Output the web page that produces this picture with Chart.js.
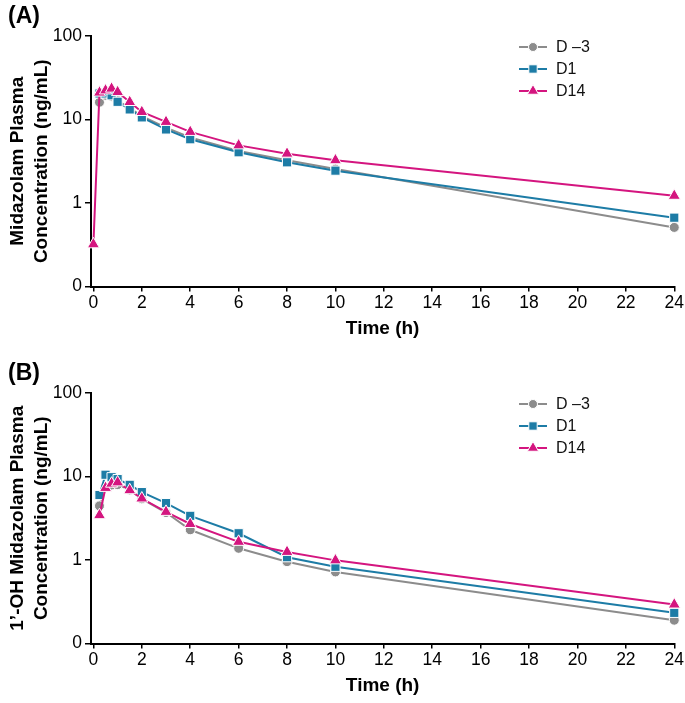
<!DOCTYPE html>
<html>
<head>
<meta charset="utf-8">
<script src="https://cdn.jsdelivr.net/npm/chart.js@4.4.0/dist/chart.umd.min.js"></script>
<style>
    html, body { margin: 0; padding: 0; background: #fff; }
    .panel { position: absolute; left: 0; width: 685px; height: 346px; }
    #panelA { top: 0; }
    #panelB { top: 357px; }
</style>
</head>
<body>
<div class="panel" id="panelA"><canvas id="chartA"></canvas></div>
<div class="panel" id="panelB"><canvas id="chartB"></canvas></div>
<script>
// sampling times (h)
const times = [0.25, 0.5, 0.75, 1, 1.5, 2, 3, 4, 6, 8, 10, 24];
const timesD14A = [0, 0.25, 0.5, 0.75, 1, 1.5, 2, 3, 4, 6, 8, 10, 24];
const xTicks = [0, 2, 4, 6, 8, 10, 12, 14, 16, 18, 20, 22, 24];
const yTicks = [0.1, 1, 10, 100];
const seriesLabels = ['D \u20133', 'D1', 'D14'];

// (A) midazolam, ng/mL
const midD3  = [16.1, 19.5, 19.0, 16.8, 13.7, 11.0, 8.0, 6.1, 4.2, 3.25, 2.55, 0.51];
const midD1  = [20.5, 20.5, 19.5, 16.3, 13.2, 10.6, 7.6, 5.8, 4.05, 3.07, 2.44, 0.667];
const midD14 = [0.32, 21.0, 22.3, 23.4, 21.3, 16.2, 12.3, 9.35, 7.1, 4.9, 3.9, 3.25, 1.22];

// (B) 1'-OH midazolam, ng/mL
const ohD3  = [4.45, 7.5, 7.9, 8.0, 6.9, 5.4, 3.7, 2.3, 1.38, 0.955, 0.72, 0.19];
const ohD1  = [6.0, 10.5, 9.8, 9.3, 7.95, 6.5, 4.8, 3.38, 2.09, 1.08, 0.83, 0.233];
const ohD14 = [3.44, 7.3, 8.2, 8.5, 6.85, 5.45, 3.77, 2.7, 1.65, 1.25, 0.99, 0.293];

const colors = ['#8c8c8c', '#1d7ca6', '#d4157f'];
const styles = ['circle', 'rect', 'triangle'];
const radii = [5, 6.5, 7];
const FONT = '"Liberation Sans", Arial, sans-serif';

function pts(xs, ys) {
    return xs.map((x, i) => ({x: x, y: ys[i]}));
}

function drawMarker(ctx, style, x, y, r, color) {
    ctx.beginPath();
    if (style === 'circle') {
        ctx.arc(x, y, r, 0, Math.PI * 2);
    } else if (style === 'rect') {
        ctx.rect(x - r, y - r, 2 * r, 2 * r);
    } else {
        ctx.moveTo(x, y - r);
        ctx.lineTo(x + r * 0.866, y + r / 2);
        ctx.lineTo(x - r * 0.866, y + r / 2);
        ctx.closePath();
    }
    ctx.fillStyle = color;
    ctx.fill();
    ctx.strokeStyle = '#fff';
    ctx.lineWidth = 1;
    ctx.stroke();
}

const overlay = {
    id: 'overlay',
    afterDraw(chart, args, opts) {
        const ctx = chart.ctx;
        ctx.save();
        ctx.fillStyle = '#000';
        ctx.textBaseline = 'middle';
        ctx.font = 'bold 23px ' + FONT;
        ctx.fillText(opts.label, 8, 17);

        // legend
        ctx.font = '16px ' + FONT;
        for (let i = 0; i < 3; i++) {
            let y = 47 + i * 22;
            ctx.strokeStyle = colors[i];
            ctx.lineWidth = 2;
            ctx.beginPath();
            ctx.moveTo(519, y);
            ctx.lineTo(547, y);
            ctx.stroke();
            let sz = [4.5, 4.2, 6.5][i];
            drawMarker(ctx, styles[i], 533, y, sz, colors[i]);
            ctx.fillStyle = '#111';
            ctx.fillText(seriesLabels[i], 556, y + 1);
        }
        ctx.restore();
    }
};

function makePanel(id, label, yTitle, sets) {
    let datasets = sets.map((s, i) => ({
        label: seriesLabels[i],
        data: s,
        order: 3 - i,
        borderColor: colors[i],
        backgroundColor: colors[i],
        borderWidth: 2,
        tension: 0,
        pointStyle: styles[i],
        pointRadius: radii[i],
        pointBackgroundColor: colors[i],
        pointBorderColor: '#fff',
        pointBorderWidth: 1,
        clip: false
    }));

    return new Chart(document.getElementById(id), {
        type: 'line',
        data: {datasets: datasets},
        plugins: [overlay],
        options: {
            responsive: true,
            maintainAspectRatio: false,
            animation: false,
            layout: {padding: {top: 36, right: 10, left: 0, bottom: 0}},
            plugins: {
                legend: {display: false},
                tooltip: {enabled: false},
                overlay: {label: label}
            },
            scales: {
                x: {
                    type: 'linear',
                    min: -0.1,
                    max: 24,
                    afterFit: (scale) => { scale.height = 59.5; },
                    afterBuildTicks: (scale) => { scale.ticks = xTicks.map(v => ({value: v})); },
                    grid: {drawOnChartArea: false, drawTicks: true, tickLength: 5, color: '#000', lineWidth: 1.5},
                    border: {display: true, color: '#000', width: 2},
                    ticks: {color: '#000', font: {family: FONT, size: 17.5}, padding: 1, maxRotation: 0, autoSkip: false},
                    title: {display: true, text: 'Time (h)', color: '#000',
                        font: {family: FONT, size: 19, weight: 'bold', lineHeight: 1.2},
                        padding: {top: 0, bottom: 6}}
                },
                y: {
                    type: 'logarithmic',
                    min: 0.1,
                    max: 100,
                    afterFit: (scale) => { scale.width = 91; },
                    afterBuildTicks: (scale) => { scale.ticks = yTicks.map(v => ({value: v})); },
                    grid: {drawOnChartArea: false, drawTicks: true, tickLength: 6, color: '#000', lineWidth: 1.5},
                    border: {display: true, color: '#000', width: 2},
                    ticks: {
                        color: '#000', font: {family: FONT, size: 17.5}, padding: 3, autoSkip: false,
                        callback: (v) => v === 0.1 ? '0' : String(v)
                    },
                    title: {display: true, text: yTitle, color: '#000',
                        font: {family: FONT, size: 19, weight: 'bold', lineHeight: 1.3},
                        padding: {top: 5, bottom: 0}}
                }
            }
        }
    });
}

makePanel('chartA', '(A)', ['Midazolam Plasma', 'Concentration (ng/mL)'],
    [pts(times, midD3), pts(times, midD1), pts(timesD14A, midD14)]);
makePanel('chartB', '(B)', ['1\u2019-OH Midazolam Plasma', 'Concentration (ng/mL)'],
    [pts(times, ohD3), pts(times, ohD1), pts(times, ohD14)]);
</script>
</body>
</html>
